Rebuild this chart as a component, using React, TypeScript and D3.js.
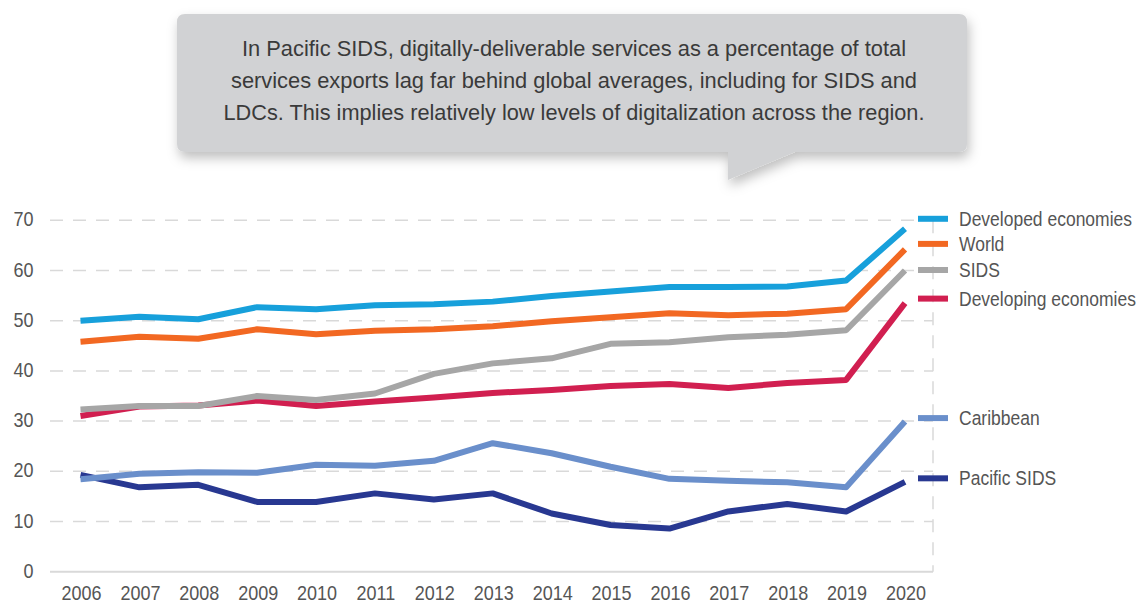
import React from "react";
import * as d3 from "d3";

const width = 1141;
const height = 604;
const plot = { left: 50, right: 933, top: 220.3, bottom: 571.7, x0: 80.5, x1: 905 };

const years = [2006, 2007, 2008, 2009, 2010, 2011, 2012, 2013, 2014, 2015, 2016, 2017, 2018, 2019, 2020];
const yTicks = [0, 10, 20, 30, 40, 50, 60, 70];

const developed = [50.0, 50.8, 50.3, 52.7, 52.3, 53.1, 53.3, 53.8, 54.9, 55.8, 56.7, 56.7, 56.8, 58.0, 68.3];
const world = [45.8, 46.8, 46.4, 48.3, 47.3, 48.0, 48.3, 48.9, 49.9, 50.7, 51.5, 51.1, 51.4, 52.3, 64.2];
const sids = [32.3, 33.0, 33.0, 35.0, 34.2, 35.5, 39.4, 41.5, 42.5, 45.4, 45.7, 46.7, 47.2, 48.1, 60.0];
const developing = [31.0, 32.9, 33.1, 34.1, 33.0, 33.9, 34.7, 35.6, 36.2, 37.0, 37.4, 36.6, 37.6, 38.2, 53.5];
const caribbean = [18.4, 19.5, 19.8, 19.7, 21.3, 21.1, 22.1, 25.6, 23.6, 20.9, 18.5, 18.1, 17.8, 16.8, 29.9];
const pacific = [19.3, 16.8, 17.3, 13.9, 13.9, 15.6, 14.4, 15.6, 11.6, 9.3, 8.6, 12.0, 13.5, 12.0, 17.9];

const seriesNames = ["Developed economies", "World", "SIDS", "Developing economies", "Caribbean", "Pacific SIDS"];
const seriesColors = ["#17a0db", "#f26822", "#a6a6a6", "#d11f50", "#6a8fcb", "#283891"];
const seriesValues = [developed, world, sids, developing, caribbean, pacific];
// legend rows are placed on the value axis
const legendValues = [70.3, 65.3, 60.1, 54.4, 30.6, 18.6];

const calloutLines = [
  "In Pacific SIDS, digitally-deliverable services as a percentage of total",
  "services exports lag far behind global averages, including for SIDS and",
  "LDCs. This implies relatively low levels of digitalization across the region.",
];
const calloutWidths = [664, 686, 701];

// reference uses a condensed grotesque; squeeze Liberation Sans to match
const font = "'Liberation Sans', Arial, Helvetica, sans-serif";
const squeeze = 0.9;

export default function App() {
  const x = d3.scalePoint<number>().domain(years).range([plot.x0, plot.x1]);
  const y = d3.scaleLinear().domain([0, 70]).range([plot.bottom, plot.top]);

  const line = d3
    .line<number>()
    .x((_, i) => x(years[i]) as number)
    .y((d) => y(d));

  return (
    <svg width={width} height={height} style={{ position: "absolute", left: 0, top: 0, background: "#fff" }}>
      <defs>
        <filter id="shadow" x="-5%" y="-10%" width="110%" height="150%">
          <feDropShadow dx="2" dy="6" stdDeviation="6" floodColor="#000" floodOpacity="0.25" />
        </filter>
      </defs>

      {/* callout */}
      <g filter="url(#shadow)">
        <path
          d="M185,14 H959 Q967,14 967,22 V144 Q967,152 959,152 H795 L728,180 V152 H185 Q177,152 177,144 V22 Q177,14 185,14 Z"
          fill="#d1d2d4"
        />
      </g>
      {calloutLines.map((t, i) => (
        <text
          key={i}
          x={574}
          y={56 + i * 32}
          textAnchor="middle"
          fontFamily={font}
          fontSize={22}
          fill="#3a3a3a"
          textLength={calloutWidths[i]}
          lengthAdjust="spacingAndGlyphs"
        >
          {t}
        </text>
      ))}

      {/* grid */}
      {yTicks.map((t) =>
        t === 0 ? (
          <line key={t} x1={plot.left} x2={plot.right} y1={y(t)} y2={y(t)} stroke="#d9d9d9" strokeWidth={2} />
        ) : (
          <line
            key={t}
            x1={plot.left}
            x2={plot.right}
            y1={y(t)}
            y2={y(t)}
            stroke="#d9d9d9"
            strokeWidth={1.5}
            strokeDasharray="13 10"
          />
        )
      )}
      <line x1={plot.right} x2={plot.right} y1={plot.top} y2={plot.bottom} stroke="#d9d9d9" strokeWidth={1.5} strokeDasharray="13 10" />

      {yTicks.map((t) => (
        <g key={t} transform={`translate(33.5,${y(t) + 6}) scale(${squeeze},1)`}>
          <text textAnchor="end" fontFamily={font} fontSize={20} fill="#555">
            {t}
          </text>
        </g>
      ))}
      {years.map((yr) => (
        <g key={yr} transform={`translate(${(x(yr) as number) + 1},600) scale(${squeeze},1)`}>
          <text textAnchor="middle" fontFamily={font} fontSize={20} fill="#555">
            {yr}
          </text>
        </g>
      ))}

      {/* lines, drawn bottom series first */}
      {seriesValues
        .map((vals, i) => ({ vals, i }))
        .reverse()
        .map(({ vals, i }) => (
          <path key={i} d={line(vals) || ""} fill="none" stroke={seriesColors[i]} strokeWidth={6} strokeLinecap="butt" strokeLinejoin="round" />
        ))}

      {/* legend */}
      {seriesNames.map((n, i) => (
        <g key={n}>
          <line x1={918} x2={948} y1={y(legendValues[i])} y2={y(legendValues[i])} stroke={seriesColors[i]} strokeWidth={6} />
          <g transform={`translate(959,${y(legendValues[i]) + 7}) scale(0.897,1)`}>
            <text fontFamily={font} fontSize={19.5} fill="#555">
              {n}
            </text>
          </g>
        </g>
      ))}
    </svg>
  );
}
